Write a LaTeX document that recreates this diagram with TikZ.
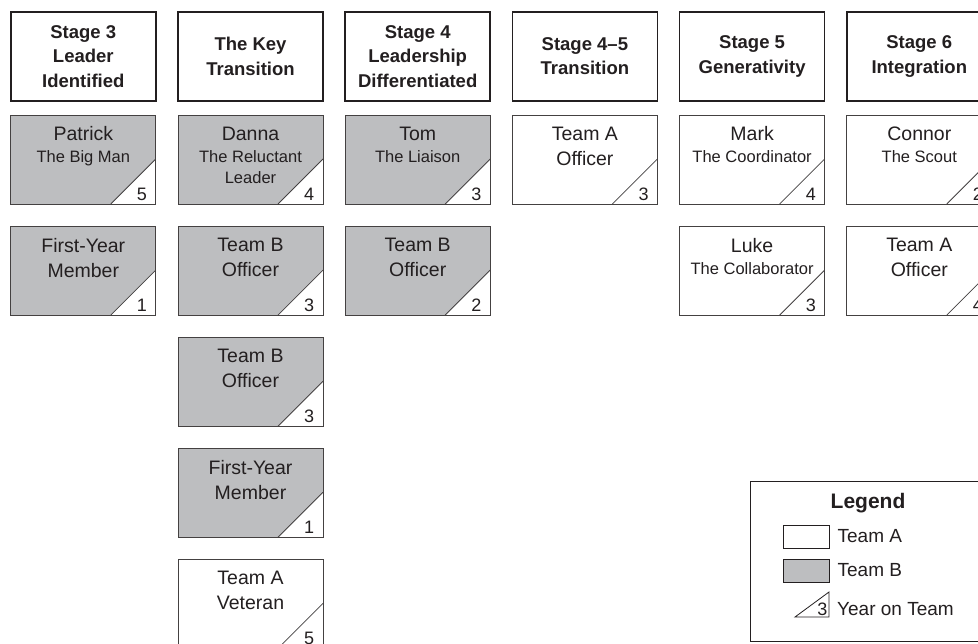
\documentclass[tikz,border=0pt]{standalone}
\usepackage{fontspec}
\setmainfont{Liberation Sans}
\usetikzlibrary{positioning}

\definecolor{ink}{RGB}{35,31,32}
\definecolor{teamgray}{RGB}{189,190,192}

\newcommand{\headfont}{\bfseries\fontsize{18.5}{24.5}\selectfont}
\newcommand{\namefont}{\fontsize{19.5}{25}\selectfont}
\newcommand{\rolefont}{\fontsize{16.5}{21.5}\selectfont}

\begin{document}
\begin{tikzpicture}[
      x=1pt,
      y=-1pt,
      node distance=21.3pt,
      text=ink,
      stagebox/.style={
          draw=ink,
          line width=1.6pt,
          fill=white,
          align=center,
          inner sep=0pt,
          minimum width=145pt,
          minimum height=89pt,
          font=\headfont
        },
      card/.style={
          draw=ink!85,
          line width=0.8pt,
          inner sep=0pt,
          minimum width=145pt,
          minimum height=89pt,
          path picture={
              \fill[white] (path picture bounding box.south east)
                -- ++(-45pt,0pt) -- ++(45pt,45pt) -- cycle;
              \draw[ink!85, line width=0.8pt] (path picture bounding box.south east)
                ++(-45pt,0pt) -- ++(45pt,45pt);
            }
        },
      teamA/.style={
          card,
          fill=white
        },
      teamB/.style={
          card,
          fill=teamgray
        },
      who/.style={
          label={[anchor=north, align=center, inner xsep=0pt, inner ysep=12pt, font=\namefont]north:{#1}}
        },
      yr/.style={
          label={[anchor=south east, inner xsep=9pt, inner ysep=4pt, font=\fontsize{18}{20}\selectfont]south east:{#1}}
        },
      keybox/.style={
          draw=ink,
          line width=0.8pt,
          inner sep=0pt,
          minimum width=46pt,
          minimum height=23pt
        },
      keytext/.style={
          font=\fontsize{19}{22}\selectfont,
          inner sep=0pt
        }
    ]
    \useasboundingbox (0,0) rectangle (978,644);

    % Stage headers
    \node[stagebox, anchor=north west] (st3) at (10,11) {Stage 3\\Leader\\Identified};
    \node[stagebox, right=20.6pt of st3] (key) {The Key\\Transition};
    \node[stagebox, right=20.6pt of key] (st4) {Stage 4\\Leadership\\Differentiated};
    \node[stagebox, right=20.6pt of st4] (st45) {Stage 4--5\\Transition};
    \node[stagebox, right=20.6pt of st45] (st5) {Stage 5\\Generativity};
    \node[stagebox, right=20.6pt of st5] (st6) {Stage 6\\Integration};

    % Members
    \node[teamB, below=13pt of st3, who={Patrick\\[-3pt]{\rolefont The Big Man}}, yr=5] (patrick) {};
    \node[teamB, below=of patrick, who={First-Year\\Member}, yr=1] (first1) {};

    \node[teamB, below=13pt of key, who={Danna\\[-3pt]{\rolefont The Reluctant}\\[-4pt]{\rolefont Leader}}, yr=4] (danna) {};
    \node[teamB, below=of danna, who={Team B\\Officer}, yr=3] (boff1) {};
    \node[teamB, below=of boff1, who={Team B\\Officer}, yr=3] (boff2) {};
    \node[teamB, below=of boff2, who={First-Year\\Member}, yr=1] (first2) {};
    \node[teamA, below=of first2, who={Team A\\Veteran}, yr=5] (aveteran) {};

    \node[teamB, below=13pt of st4, who={Tom\\[-3pt]{\rolefont The Liaison}}, yr=3] (tom) {};
    \node[teamB, below=of tom, who={Team B\\Officer}, yr=2] (boff3) {};

    \node[teamA, below=13pt of st45, who={Team A\\Officer}, yr=3] (aoff1) {};

    \node[teamA, below=13pt of st5, who={Mark\\[-3pt]{\rolefont The Coordinator}}, yr=4] (mark) {};
    \node[teamA, below=of mark, who={Luke\\[-3pt]{\rolefont The Collaborator}}, yr=3] (luke) {};

    \node[teamA, below=13pt of st6, who={Connor\\[-3pt]{\rolefont The Scout}}, yr=2] (connor) {};
    \node[teamA, below=of connor, who={Team A\\Officer}, yr=4] (aoff2) {};

    % Legend
    \node[draw=ink, line width=0.8pt, fill=white, anchor=north west,
      minimum width=245pt, minimum height=160pt] (legend) at (750,481) {};
    \node[font=\bfseries\fontsize{21}{24}\selectfont, anchor=base] (legtitle) at (868,508) {Legend};
    \node[keybox, fill=white] (keyA) at (806,536.5) {};
    \node[keybox, fill=teamgray] (keyB) at (806,570.5) {};
    \node[keytext, right=8pt of keyA] (keyAtext) {Team A};
    \node[keytext, right=8pt of keyB] (keyBtext) {Team B};
    \coordinate (keyyr) at (829,617);
    \draw[ink, line width=0.8pt] (keyyr) -- ++(-34,0) -- ++(34,-25) -- cycle;
    \node[anchor=south east, inner xsep=1.5pt, inner ysep=1.5pt, font=\fontsize{18}{20}\selectfont] (keyyrnum) at (keyyr) {3};
    \node[keytext, anchor=base west] (keyyrtext) at (837,615) {Year on Team};

  \end{tikzpicture}
\end{document}
